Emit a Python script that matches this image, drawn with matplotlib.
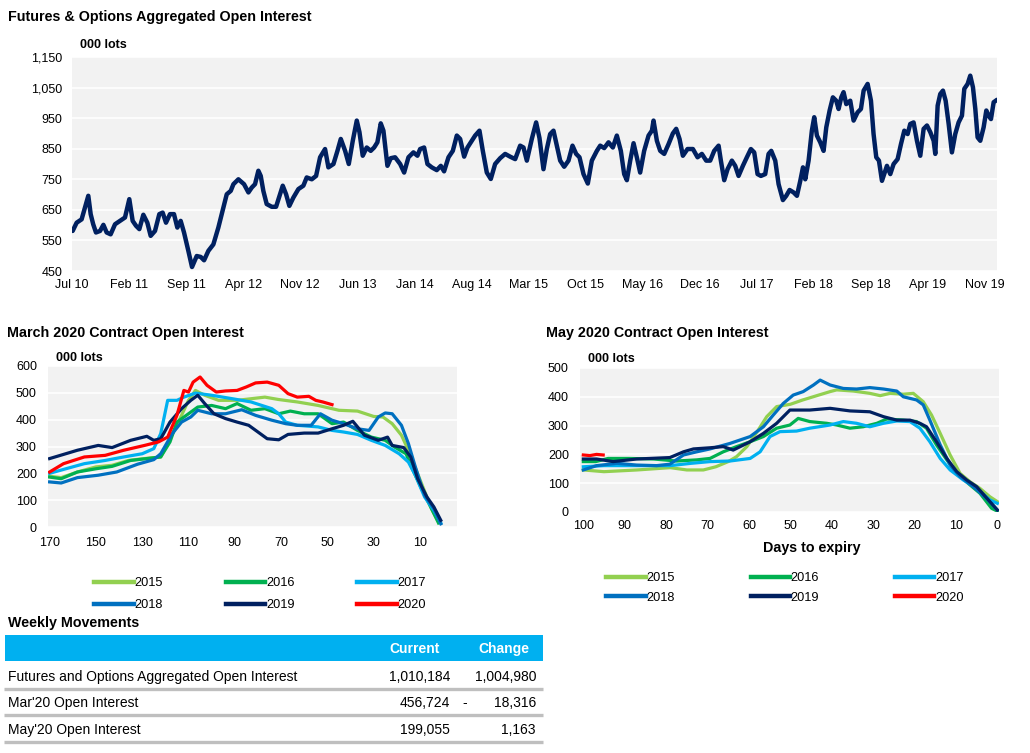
import matplotlib
matplotlib.use('Agg')
import matplotlib.pyplot as plt
from matplotlib.ticker import FuncFormatter

plt.rcParams['font.family'] = ['Liberation Sans', 'DejaVu Sans']

W, H = 1030, 753
BG = '#F2F2F2'
NAVY = '#002060'

# ---- Futures & Options aggregated open interest (000 lots), x = months since Jul 2010 ----
agg_months = [0.08, 0.57, 1.18, 1.59, 2.0, 2.29, 2.6, 2.94, 3.44, 3.85, 4.25, 4.74, 5.28, 5.89, 6.5, 7.03,
              7.44, 7.85, 8.26, 8.75, 9.24, 9.65, 10.18, 10.71, 11.12, 11.53, 12.02, 12.51, 12.92, 13.33,
              13.74, 14.27, 14.72, 15.3, 15.79, 16.2, 16.73, 17.34, 17.95, 18.57, 18.98, 19.47, 19.8, 20.41,
              21.1, 21.64, 22.05, 22.45, 22.86, 23.15, 23.47, 23.88, 24.5, 25.03, 25.52, 25.85, 26.26, 26.66,
              27.15, 27.77, 28.38, 28.79, 29.41, 29.94, 30.43, 31.04, 31.45, 32.07, 32.56, 32.97, 33.5, 33.95,
              34.44, 34.93, 35.26, 35.66, 36.15, 36.64, 37.06, 37.46, 37.87, 38.2, 38.69, 39.1, 39.63, 40.25,
              40.74, 41.27, 41.88, 42.37, 42.7, 43.19, 43.6, 44.13, 44.74, 45.24, 45.64, 46.18, 46.71, 47.2,
              47.61, 48.1, 48.51, 49.04, 49.45, 49.98, 50.39, 50.88, 51.37, 51.9, 52.52, 53.13, 53.74, 54.36,
              54.97, 55.38, 55.79, 56.4, 56.93, 57.34, 57.83, 58.24, 58.65, 59.06, 59.47, 59.88, 60.37, 60.9,
              61.39, 61.84, 62.25, 62.74, 63.27, 63.76, 64.38, 64.79, 65.28, 65.81, 66.34, 66.83, 67.32, 67.73,
              68.06, 68.47, 68.88, 69.28, 69.69, 70.18, 70.72, 71.13, 71.33, 71.74, 72.15, 72.64, 73.17, 73.7,
              74.11, 74.52, 74.93, 75.5, 76.16, 76.73, 77.26, 77.79, 78.28, 78.77, 79.31, 79.59, 80.0, 80.41,
              80.94, 81.35, 81.76, 82.29, 82.78, 83.27, 83.68, 84.09, 84.5, 85.03, 85.44, 85.77, 86.26, 86.67,
              87.2, 87.61, 88.02, 88.51, 88.92, 89.33, 89.66, 89.94, 90.35, 90.75, 91.04, 91.37, 91.78, 92.19,
              92.52, 92.93, 93.33, 93.74, 94.03, 94.36, 94.64, 94.97, 95.46, 95.87, 96.36, 96.77, 97.1, 97.59,
              98.0, 98.32, 98.65, 98.98, 99.35, 99.63, 99.96, 100.37, 100.78, 101.27, 101.68, 102.09, 102.5,
              102.82, 103.23, 103.64, 104.05, 104.46, 104.87, 105.28, 105.69, 105.89, 106.18, 106.5, 106.83,
              107.16, 107.53, 107.93, 108.34, 108.75, 109.16, 109.45, 109.86, 110.18, 110.51, 110.8, 111.08,
              111.41, 111.82, 112.15, 112.43, 112.72, 113.05, 113.46]
agg_lots = [581, 608, 619, 658, 696, 636, 603, 576, 581, 601, 576, 570, 603, 614, 625, 685,
            614, 598, 587, 634, 608, 565, 581, 636, 641, 608, 636, 636, 592, 614,
            576, 516, 463, 499, 496, 485, 516, 537, 592, 658, 701, 712, 734, 750,
            734, 707, 723, 734, 778, 761, 712, 669, 660, 660, 701, 729, 701, 663,
            690, 718, 729, 756, 750, 761, 822, 849, 789, 800, 843, 882, 843, 800,
            876, 942, 904, 827, 854, 843, 854, 871, 933, 909, 794, 819, 822, 800,
            772, 822, 838, 827, 849, 854, 800, 789, 780, 794, 776, 822, 843, 893,
            882, 824, 854, 876, 893, 909, 843, 772, 751, 800, 819, 833, 824, 816,
            860, 854, 811, 882, 936, 885, 783, 849, 898, 909, 860, 811, 791, 811,
            860, 833, 822, 767, 736, 811, 843, 860, 852, 871, 854, 893, 843, 767,
            747, 811, 868, 822, 772, 843, 893, 909, 942, 876, 843, 833, 865, 900,
            915, 882, 827, 849, 849, 822, 833, 811, 811, 843, 860, 811, 747, 783,
            811, 794, 761, 794, 822, 849, 838, 767, 761, 767, 833, 843, 811, 734,
            682, 696, 715, 707, 696, 745, 789, 750, 811, 909, 953, 893, 871, 843,
            920, 975, 1018, 1007, 980, 1018, 1035, 996, 1007, 942, 969, 980, 1040, 1062,
            1007, 898, 822, 811, 745, 767, 794, 767, 800, 816, 865, 909, 898,
            931, 936, 876, 827, 915, 926, 904, 876, 833, 991, 1029, 1040,
            1007, 931, 838, 898, 936, 958, 1046, 1062, 1089, 1051, 980, 887,
            876, 920, 975, 958, 947, 1002, 1010]
agg_tick_labels = ['Jul 10', 'Feb 11', 'Sep 11', 'Apr 12', 'Nov 12', 'Jun 13', 'Jan 14', 'Aug 14', 'Mar 15',
                   'Oct 15', 'May 16', 'Dec 16', 'Jul 17', 'Feb 18', 'Sep 18', 'Apr 19', 'Nov 19']

years = ['2015', '2016', '2017', '2018', '2019', '2020']
year_colors = ['#92D050', '#00B050', '#00B0F0', '#0070C0', '#002060', '#FF0000']

# ---- March 2020 contract open interest (000 lots) vs days to expiry ----
mar_days_2015 = [170, 165, 158, 150, 143, 136, 129, 122, 119, 115, 110, 107, 103, 97, 89, 83, 77, 71, 63, 54,
                 45, 37, 30, 26, 22, 18, 15, 13, 9, 5, 2]
mar_oi_2015 = [189, 184, 205, 224, 230, 248, 255, 261, 311, 379, 472, 509, 491, 472, 472, 478, 484, 475, 466, 453,
               435, 432, 412, 410, 385, 342, 286, 242, 155, 68, 19]
mar_days_2016 = [170, 165, 158, 150, 143, 135, 128, 122, 118, 115, 110, 106, 100, 94, 89, 83, 77, 71, 66, 60,
                 54, 48, 43, 37, 31, 25, 21, 16, 14, 9, 5, 2]
mar_oi_2016 = [186, 180, 205, 217, 226, 248, 255, 261, 317, 391, 422, 447, 453, 441, 460, 435, 441, 422, 432, 422,
               422, 385, 391, 360, 335, 323, 298, 273, 230, 137, 68, 15]
mar_days_2017 = [170, 163, 155, 146, 138, 130, 125, 122, 119, 115, 112, 107, 100, 91, 83, 74, 71, 68, 63, 54,
                 48, 43, 37, 31, 25, 19, 15, 12, 8, 4, 1]
mar_oi_2017 = [200, 217, 236, 248, 261, 273, 292, 348, 472, 472, 484, 499, 491, 478, 466, 441, 422, 391, 379, 373,
               360, 354, 345, 323, 304, 273, 242, 193, 112, 62, 15]
mar_days_2018 = [170, 165, 158, 149, 141, 132, 125, 122, 117, 113, 109, 106, 100, 94, 87, 81, 74, 68, 63, 57,
                 53, 48, 43, 37, 32, 28, 25, 22, 18, 15, 12, 8, 4, 1]
mar_oi_2018 = [168, 164, 184, 193, 205, 234, 251, 273, 348, 391, 410, 435, 422, 422, 437, 416, 398, 385, 379, 379,
               422, 398, 385, 366, 360, 410, 425, 422, 379, 311, 224, 118, 68, 12]
mar_days_2019 = [170, 158, 149, 143, 135, 128, 125, 122, 118, 113, 109, 106, 103, 99, 94, 89, 84, 80, 76, 71,
                 67, 60, 54, 48, 43, 39, 34, 28, 24, 22, 17, 14, 11, 7, 4, 1]
mar_oi_2019 = [255, 286, 304, 296, 323, 338, 323, 329, 391, 441, 472, 491, 460, 422, 404, 391, 379, 354, 329, 325,
               345, 350, 350, 366, 379, 394, 342, 323, 335, 304, 296, 261, 180, 112, 75, 25]
mar_days_2020 = [170, 164, 155, 146, 138, 129, 123, 119, 115, 112, 110, 108, 105, 102, 98, 94, 89, 85, 81, 76,
                 71, 67, 63, 58, 55, 52, 48]
mar_oi_2020 = [205, 236, 261, 267, 286, 304, 317, 335, 416, 509, 503, 540, 559, 528, 503, 507, 509, 522, 537, 540,
               528, 497, 484, 487, 472, 466, 456]

# ---- May 2020 contract open interest (000 lots) vs days to expiry ----
may_days_2015 = [100, 95, 87, 79, 75, 71, 68, 65, 63, 60.5, 58, 55.7, 53.3, 50, 47, 43.6, 40.4, 38.8, 34.8, 30.8,
                 28.3, 25.9, 22.7, 20.3, 17.9, 15.9, 13.8, 11.4, 9, 6.6, 4.2, 1.8, 0]
may_oi_2015 = [146, 140, 146, 154, 146, 146, 157, 175, 192, 227, 279, 331, 366, 374, 389, 404, 418, 424, 420, 412,
               404, 412, 409, 412, 383, 337, 273, 198, 134, 105, 82, 53, 36]
may_days_2016 = [100, 97, 94, 89, 83, 77.5, 72.6, 69.4, 66.2, 63, 59.7, 56.5, 53.3, 50.1, 48.1, 45.3, 41.2, 38.8,
                 35.6, 32.4, 29.1, 26.7, 22.7, 19.5, 17.1, 14.7, 12.2, 9.8, 6.6, 4.2, 1.4, 0]
may_oi_2016 = [175, 175, 186, 186, 184, 177, 181, 186, 209, 227, 244, 262, 291, 302, 325, 314, 308, 302,
               291, 296, 308, 323, 319, 314, 291, 233, 181, 134, 94, 65, 13, 3]
may_days_2017 = [100, 95, 87, 79, 74, 69.4, 64.6, 59.7, 57.3, 54.9, 52.5, 48.5, 45.3, 40.4, 37.2, 34, 30.8, 27.5,
                 24.3, 21.1, 18.7, 16.3, 13.8, 11.4, 8.2, 5, 1.8, 0]
may_oi_2017 = [157, 161, 161, 161, 169, 175, 177, 186, 209, 262, 279, 281, 291, 302, 314, 308, 296, 308,
               316, 314, 291, 244, 186, 146, 111, 82, 42, 30]
may_days_2018 = [100, 96.8, 91.9, 87.1, 82.3, 79.1, 75.8, 72.6, 69.4, 64.6, 59.7, 56.5, 54.1, 51.7, 49.3, 46.9,
                 44.4, 42.8, 40.4, 37.2, 34, 30.8, 27.5, 24.3, 22.7, 19.5, 17.9, 16.3, 13.8, 11.4, 9, 5.8, 2.6, 0]
may_oi_2018 = [146, 161, 169, 163, 161, 166, 198, 209, 219, 238, 262, 296, 337, 377, 406, 418,
               441, 458, 441, 429, 427, 432, 427, 420, 400, 389, 372, 319, 233, 163, 123, 88, 47, 7]
may_days_2019 = [100, 96.8, 92.8, 87.1, 79.1, 75.8, 73.4, 69.4, 66.2, 63.8, 59.7, 56.5, 53.3, 50.1, 45.3, 40.4,
                 35.6, 30.8, 27.5, 24.3, 21.1, 18.7, 17.1, 14.7, 12.2, 9.8, 7.4, 5, 1.8, 0]
may_oi_2019 = [184, 184, 175, 184, 189, 209, 219, 223, 227, 215, 244, 273, 308, 354, 354, 360,
               351, 348, 331, 319, 319, 308, 296, 244, 186, 140, 111, 88, 36, 7]
may_days_2020 = [100, 98.4, 96.8, 95.2]
may_oi_2020 = [198, 196, 200, 198]

# ---- weekly movements table ----
table_rows = ['Futures and Options Aggregated Open Interest', "Mar'20 Open Interest", "May'20 Open Interest"]
table_current = ['1,010,184', '456,724', '199,055']
table_sign = ['', '-', '']
table_change = ['1,004,980', '18,316', '1,163']


fig = plt.figure(figsize=(W / 100, H / 100), dpi=100)

# pixel overlay for titles and the table
sheet = fig.add_axes([0, 0, 1, 1])
sheet.set_xlim(0, W)
sheet.set_ylim(H, 0)
sheet.axis('off')


def px_axes(left, top, right, bottom):
    return fig.add_axes([left / W, 1 - bottom / H, (right - left) / W, (bottom - top) / H])


def style(ax):
    ax.set_facecolor(BG)
    for s in ax.spines.values():
        s.set_visible(False)
    ax.grid(axis='y', color='white', linewidth=1.2)
    ax.set_axisbelow(True)
    ax.tick_params(length=0, labelsize=9, colors='black')


title_kw = dict(fontsize=10.3, fontweight='bold', va='center', ha='left', color='black')
lots_kw = dict(fontsize=9, fontweight='bold', va='center', ha='left', color='black')

# ---------- top chart ----------
sheet.text(8, 17, 'Futures & Options Aggregated Open Interest', **title_kw)
sheet.text(80, 45, '000 lots', **lots_kw)
ax = px_axes(72, 57, 997, 271)
style(ax)
ax.plot(agg_months, agg_lots, color=NAVY, lw=3.2, solid_joinstyle='round', solid_capstyle='round')
ax.set_xlim(0, agg_months[-1])
ax.set_ylim(450, 1150)
ax.set_yticks(range(450, 1151, 100))
ax.yaxis.set_major_formatter(FuncFormatter(lambda v, p: f'{v:,.0f}'))
ax.set_xticks(range(0, 113, 7))
ax.set_xticklabels(agg_tick_labels)
ax.tick_params(axis='y', pad=7)
ax.tick_params(axis='x', pad=6)


def legend_order(lines):
    # matplotlib fills legend columns first; reorder so rows read 2015 2016 2017 / 2018 2019 2020
    return [lines[0], lines[3], lines[1], lines[4], lines[2], lines[5]]


# ---------- March 2020 contract ----------
sheet.text(7, 333, 'March 2020 Contract Open Interest', **title_kw)
sheet.text(56, 358, '000 lots', **lots_kw)
axm = px_axes(48, 366, 457, 527)
style(axm)
mar_series = [(mar_days_2015, mar_oi_2015), (mar_days_2016, mar_oi_2016), (mar_days_2017, mar_oi_2017),
              (mar_days_2018, mar_oi_2018), (mar_days_2019, mar_oi_2019), (mar_days_2020, mar_oi_2020)]
mar_lines = []
for (d, v), yr, c in zip(mar_series, years, year_colors):
    ln, = axm.plot(d, v, color=c, lw=2.3, label=yr, solid_joinstyle='round')
    mar_lines.append(ln)
axm.set_xlim(170.7, -6)
axm.set_ylim(0, 600)
axm.set_yticks(range(0, 601, 100))
axm.set_xticks(range(170, 9, -20))
axm.tick_params(axis='y', pad=8)
axm.tick_params(axis='x', pad=7)
h = legend_order(mar_lines)
leg = axm.legend(h, [l.get_label() for l in h], ncol=3, loc='upper left',
                 bbox_to_anchor=(88 / W, 1 - 571 / H), bbox_transform=fig.transFigure,
                 frameon=False, borderpad=0, fontsize=9.2, handlelength=3.1, handletextpad=0.05,
                 columnspacing=4.9, labelspacing=0.75)
for lh in leg.legend_handles:
    lh.set_linewidth(3.2)

# ---------- May 2020 contract ----------
sheet.text(546, 333, 'May 2020 Contract Open Interest', **title_kw)
sheet.text(588, 359, '000 lots', **lots_kw)
axy = px_axes(580, 368, 999, 512)
style(axy)
may_series = [(may_days_2015, may_oi_2015), (may_days_2016, may_oi_2016), (may_days_2017, may_oi_2017),
              (may_days_2018, may_oi_2018), (may_days_2019, may_oi_2019), (may_days_2020, may_oi_2020)]
may_lines = []
for (d, v), yr, c in zip(may_series, years, year_colors):
    ln, = axy.plot(d, v, color=c, lw=2.3, label=yr, solid_joinstyle='round')
    may_lines.append(ln)
axy.set_xlim(100.8, -0.4)
axy.set_ylim(0, 500)
axy.set_yticks(range(0, 501, 100))
axy.set_xticks(range(100, -1, -10))
axy.tick_params(axis='y', pad=8)
axy.tick_params(axis='x', pad=6)
axy.set_xlabel('Days to expiry', fontsize=10.3, fontweight='bold')
axy.xaxis.set_label_coords((812 - 580) / 419, (512 - 541) / 144)
h = legend_order(may_lines)
leg = axy.legend(h, [l.get_label() for l in h], ncol=3, loc='upper left',
                 bbox_to_anchor=(600 / W, 1 - 566 / H), bbox_transform=fig.transFigure,
                 frameon=False, borderpad=0, fontsize=9.2, handlelength=3.1, handletextpad=0.05,
                 columnspacing=5.9, labelspacing=0.57)
for lh in leg.legend_handles:
    lh.set_linewidth(3.2)

# ---------- Weekly movements table ----------
sheet.text(8, 623, 'Weekly Movements', **title_kw)
sheet.add_patch(plt.Rectangle((5, 635), 538, 26, color='#00B0F0', lw=0))
sheet.text(440, 649, 'Current', fontsize=10, fontweight='bold', color='white', ha='right', va='center')
sheet.text(529, 649, 'Change', fontsize=10, fontweight='bold', color='white', ha='right', va='center')
row_y = [677, 703, 730]
for y, name, cur, sign, chg in zip(row_y, table_rows, table_current, table_sign, table_change):
    sheet.text(8, y, name, fontsize=10, ha='left', va='center')
    sheet.text(450, y, cur, fontsize=10, ha='right', va='center')
    sheet.text(465, y, sign, fontsize=10, ha='center', va='center')
    sheet.text(536, y, chg, fontsize=10, ha='right', va='center')
    sheet.plot([4, 543], [y + 12, y + 12], color='#BFBFBF', lw=2.4, solid_capstyle='butt')

fig.savefig('out.png', dpi=100)
